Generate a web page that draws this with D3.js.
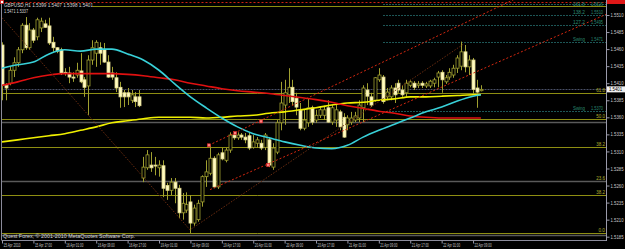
<!DOCTYPE html>
<html><head><meta charset="utf-8">
<script src="https://cdn.jsdelivr.net/npm/d3@7"></script>
<style>html,body{margin:0;padding:0;background:#000;overflow:hidden}text{font-family:"Liberation Sans",Arial,sans-serif}</style>
</head><body><svg id="c" width="625" height="249"></svg>
<script>
// ---- candle data (GBPUSD H1) ----
const opens  = [1.5466,1.5407,1.5410,1.5429,1.5440,1.5459,1.5495,1.5462,1.5488,1.5478,1.5491,1.5497,1.5494,1.5470,1.5462,1.5459,1.5426,1.5425,1.5419,1.5422,1.5428,1.5415,1.5406,1.5444,1.5454,1.5462,1.5459,1.5441,1.5425,1.5418,1.5404,1.5396,1.5396,1.5385,1.5390,1.5390,
 1.5271,1.5286,1.5290,1.5290,1.5286,1.5289,1.5260,1.5253,1.5265,1.5256,1.5220,1.5224,1.5236,1.5205,1.5210,1.5236,1.5273,1.5278,1.5300,1.5258,1.5308,1.5297,1.5312,1.5334,1.5330,1.5334,1.5331,1.5333,1.5316,1.5322,1.5322,1.5316,1.5327,1.5287,1.5309,1.5352,1.5378,1.5393,1.5404,1.5388,1.5371,1.5344,1.5352,1.5374,1.5356,1.5363,1.5363,1.5374,1.5353,1.5356,1.5368,1.5360,1.5349,1.5353,1.5356,1.5359,1.5374,1.5400,1.5390,1.5385,1.5415,1.5419,1.5390,1.5390,1.5403,1.5410,1.5400,1.5396,1.5407,1.5410,1.5407,1.5410,1.5406,1.5406,1.5410,1.5419,1.5426,1.5412,1.5419,1.5422,1.5432,1.5435,1.5456,1.5434,1.5444,1.5403,1.5399];
const highs  = [1.5470,1.5410,1.5434,1.5448,1.5463,1.5498,1.5507,1.5498,1.5491,1.5506,1.5506,1.5503,1.5506,1.5478,1.5463,1.5462,1.5432,1.5434,1.5426,1.5440,1.5454,1.5419,1.5451,1.5473,1.5473,1.5470,1.5469,1.5451,1.5434,1.5426,1.5412,1.5400,1.5403,1.5400,1.5397,1.5400,
 1.5302,1.5312,1.5309,1.5302,1.5297,1.5297,1.5264,1.5271,1.5271,1.5261,1.5249,1.5250,1.5246,1.5232,1.5239,1.5275,1.5297,1.5319,1.5303,1.5308,1.5315,1.5315,1.5338,1.5338,1.5338,1.5337,1.5337,1.5337,1.5334,1.5331,1.5327,1.5337,1.5331,1.5322,1.5356,1.5412,1.5415,1.5432,1.5415,1.5396,1.5381,1.5371,1.5388,1.5377,1.5371,1.5375,1.5377,1.5385,1.5378,1.5378,1.5371,1.5366,1.5363,1.5368,1.5368,1.5385,1.5407,1.5410,1.5396,1.5419,1.5432,1.5422,1.5403,1.5407,1.5410,1.5415,1.5407,1.5415,1.5415,1.5413,1.5413,1.5413,1.5412,1.5415,1.5418,1.5428,1.5429,1.5422,1.5432,1.5437,1.5451,1.5471,1.5466,1.5451,1.5447,1.5415,1.5407];
const lows   = [1.5385,1.5385,1.5407,1.5419,1.5434,1.5454,1.5459,1.5459,1.5469,1.5473,1.5485,1.5491,1.5466,1.5456,1.5454,1.5422,1.5421,1.5410,1.5412,1.5418,1.5410,1.5390,1.5363,1.5437,1.5434,1.5437,1.5440,1.5418,1.5415,1.5397,1.5374,1.5375,1.5378,1.5381,1.5375,1.5375,
 1.5265,1.5283,1.5280,1.5275,1.5273,1.5243,1.5239,1.5246,1.5234,1.5212,1.5210,1.5220,1.5190,1.5201,1.5207,1.5229,1.5258,1.5275,1.5256,1.5255,1.5297,1.5294,1.5308,1.5327,1.5327,1.5327,1.5322,1.5312,1.5314,1.5315,1.5312,1.5312,1.5287,1.5283,1.5306,1.5341,1.5349,1.5381,1.5378,1.5363,1.5341,1.5341,1.5346,1.5349,1.5352,1.5359,1.5356,1.5352,1.5349,1.5346,1.5341,1.5330,1.5341,1.5349,1.5353,1.5353,1.5353,1.5378,1.5375,1.5383,1.5412,1.5380,1.5385,1.5385,1.5381,1.5396,1.5390,1.5390,1.5404,1.5400,1.5403,1.5403,1.5403,1.5403,1.5404,1.5404,1.5396,1.5409,1.5415,1.5418,1.5425,1.5429,1.5426,1.5422,1.5393,1.5374,1.5398];
const closes = [1.5407,1.5403,1.5429,1.5440,1.5459,1.5495,1.5462,1.5488,1.5473,1.5503,1.5501,1.5492,1.5469,1.5462,1.5457,1.5425,1.5425,1.5419,1.5418,1.5429,1.5412,1.5404,1.5444,1.5462,1.5470,1.5454,1.5441,1.5419,1.5419,1.5403,1.5390,1.5390,1.5390,1.5393,1.5383,1.5377,
 1.5287,1.5305,1.5286,1.5289,1.5290,1.5256,1.5253,1.5265,1.5256,1.5220,1.5234,1.5232,1.5205,1.5227,1.5234,1.5273,1.5280,1.5300,1.5258,1.5305,1.5299,1.5312,1.5334,1.5330,1.5334,1.5331,1.5327,1.5315,1.5324,1.5327,1.5315,1.5334,1.5290,1.5315,1.5352,1.5381,1.5396,1.5404,1.5383,1.5375,1.5344,1.5356,1.5374,1.5353,1.5363,1.5371,1.5371,1.5353,1.5374,1.5371,1.5346,1.5331,1.5359,1.5359,1.5362,1.5378,1.5403,1.5391,1.5378,1.5418,1.5422,1.5383,1.5397,1.5403,1.5393,1.5400,1.5393,1.5410,1.5412,1.5404,1.5409,1.5407,1.5409,1.5413,1.5415,1.5425,1.5415,1.5418,1.5426,1.5432,1.5447,1.5456,1.5434,1.5444,1.5401,1.5397,1.5401];

// ---- moving averages, read at sample bars ----
const maBars   = [0,4,8,12,16,20,24,28,32,36,40,44,48,52,56,60,64,68,72,76,80,84,88,92,96,100,104,108,112,116,120,122];
const maCyan   = [1.5432,1.5437,1.5441,1.5453,1.5459,1.5457,1.5460,1.5460,1.5453,1.5444,1.5429,1.5409,1.5390,1.5374,1.5359,1.5346,1.5336,1.5330,1.5324,1.5319,1.5315,1.5314,1.5319,1.5331,1.5341,1.5350,1.5359,1.5368,1.5375,1.5384,1.5391,1.5393];
const maRed    = [1.5407,1.5412,1.5418,1.5422,1.5424,1.5424,1.5424,1.5424,1.5423,1.5421,1.5418,1.5415,1.5410,1.5406,1.5402,1.5399,1.5397,1.5395,1.5392,1.5389,1.5386,1.5382,1.5377,1.5373,1.5369,1.5366,1.5362,1.5360,1.5359,1.5359,1.5359,1.5359];
const maYellow = [1.5324,1.5327,1.5330,1.5333,1.5336,1.5341,1.5346,1.5352,1.5355,1.5358,1.5360,1.5360,1.5360,1.5359,1.5360,1.5362,1.5363,1.5366,1.5368,1.5371,1.5374,1.5378,1.5381,1.5382,1.5385,1.5387,1.5390,1.5390,1.5391,1.5392,1.5393,1.5393];

// ---- axes ----
const priceTicks = [1.5510,1.5485,1.5460,1.5435,1.5410,1.5385,1.5360,1.5335,1.5310,1.5285,1.5260,1.5235,1.5210,1.5185];
const timeBars   = [0,8,16,24,32,40,48,56,64,72,80,88,96,104,112,120];
const timeLabels = ["15 Apr 2010","15 Apr 17:00","16 Apr 01:00","16 Apr 09:00","16 Apr 17:00","19 Apr 01:00","19 Apr 09:00","19 Apr 17:00","20 Apr 01:00","20 Apr 09:00","20 Apr 17:00","21 Apr 01:00","21 Apr 09:00","21 Apr 17:00","22 Apr 01:00","22 Apr 09:00"];
const bidPrice = 1.5401;
const alertPrice = 1.5529;

// ---- fibonacci retracement (olive) ----
const fibLabels = ["0.0","38.2","38.2","50.0","61.8","100.0"];
const fibPrices = [1.5190,1.5246,1.5317,1.5357,1.5396,1.5523];
// second retracement (grey)
const fib2Labels = ["0.0","23.6","50.0"];
const fib2Prices = [1.5188,1.5267,1.5353];
// swing projection (teal)
const swingLabels = ["161.8","138.2","127.2","Swing","Swing"];
const swingPrices = [1.5526,1.5510,1.5495,1.5471,1.5370];

// ---- drawn trend objects: [bar, price] ----
const channelUpper = [[52.7,1.5319],[129.4,1.5530]];
const channelLower = [[53.0,1.5254],[153.9,1.5511]];
const channelMarks = [[52.7,1.5319],[59.4,1.5337],[66.0,1.5354],[67.8,1.5290]];
const zigzag = [[0,1.5506],[47.9,1.5195],[117.5,1.5467]];

const W=625,H=249;
const svg=d3.select("#c");
const x=d3.scaleLinear().domain([0,122]).range([2,480.9]);
const y=d3.scaleLinear().domain([1.5185,1.5510]).range([236.7,15]);
const left=1.5,right=606,bottom=240;

svg.append("rect").attr("width",W).attr("height",H).attr("fill","#000");
svg.append("defs").append("clipPath").attr("id","clip").append("rect")
  .attr("x",left).attr("y",0).attr("width",right-left).attr("height",bottom);
const plot=svg.append("g").attr("clip-path","url(#clip)");

function fitText(sel,w){sel.attr("textLength",w).attr("lengthAdjust","spacingAndGlyphs");}

// horizontal lines
function hline(p,color,dash,x0,wid){
  plot.append("line").attr("x1",x0==null?left:x0).attr("x2",right)
    .attr("y1",Math.round(y(p))+0.5).attr("y2",Math.round(y(p))+0.5)
    .attr("stroke",color).attr("stroke-width",wid||1).attr("stroke-dasharray",dash||null);
}
fib2Prices.forEach(p=>hline(p,"#5a5a5a",null,null,1.5));
fibPrices.forEach((p,i)=>hline(p,"#8e8e12",null,i===5?93:null));
swingPrices.forEach(p=>hline(p,"#1d5656","2,1",383));
hline(bidPrice,"#4a5068","2,1");
hline(alertPrice,"#d02010","2,2");

// candles
const bars=d3.range(opens.length).map(i=>({i,o:opens[i],h:highs[i],l:lows[i],c:closes[i]}));
const cg=plot.append("g");
cg.selectAll("line.w").data(bars).join("line")
  .attr("x1",d=>Math.round(x(d.i))+0.5).attr("x2",d=>Math.round(x(d.i))+0.5)
  .attr("y1",d=>y(d.h)).attr("y2",d=>y(d.l))
  .attr("stroke","#a0a030").attr("stroke-width",1);
cg.selectAll("rect.b").data(bars).join("rect")
  .attr("x",d=>Math.round(x(d.i))-1).attr("width",3)
  .attr("y",d=>y(Math.max(d.o,d.c))).attr("height",d=>Math.max(1,Math.abs(y(d.o)-y(d.c))))
  .attr("fill",d=>d.c>=d.o?"#000":"#fffbc0")
  .attr("stroke",d=>d.c>=d.o?"#a0a030":"#e0d890").attr("stroke-width",0.8);

// moving averages
function ma(vals,color){
  const pts=maBars.map((b,k)=>[x(b),y(vals[k])]);
  plot.append("path").attr("d",d3.line().curve(d3.curveMonotoneX)(pts))
    .attr("fill","none").attr("stroke",color).attr("stroke-width",1.6);
}
ma(maYellow,"#f0f000");
ma(maRed,"#e01010");
ma(maCyan,"#38d0d8");

// trend objects
function seg(pts,color,dash,extend){
  let p=pts.map(d=>[x(d[0]),y(d[1])]);
  if(extend){const dx=p[1][0]-p[0][0],dy=p[1][1]-p[0][1];p=[p[0],[p[0][0]+dx*3,p[0][1]+dy*3]];}
  plot.append("path").attr("d",d3.line()(p)).attr("fill","none")
    .attr("stroke",color).attr("stroke-width",1).attr("stroke-dasharray",dash);
}
seg(zigzag,"#6a2c10","1.5,1.5",false);
seg(channelUpper,"#d42810","2,2",true);
seg(channelLower,"#d42810","2,2",true);
plot.selectAll("rect.m").data(channelMarks).join("rect")
  .attr("x",d=>x(d[0])-1.5).attr("y",d=>y(d[1])-1.5).attr("width",3).attr("height",3)
  .attr("fill","#ff8080").attr("stroke","#e02020").attr("stroke-width",0.6);

// labels for fib lines
const fs=5;
fibLabels.forEach((t,i)=>{
  if(i===5) return;
  svg.append("text").attr("x",605).attr("y",y(fibPrices[i])-1).attr("text-anchor","end")
    .attr("font-size",fs).attr("fill","#b0b030").text(t).call(fitText,t.length*2.2);
});
fib2Labels.forEach((t,i)=>{
  if(i!==1) return;
  svg.append("text").attr("x",605).attr("y",y(fib2Prices[i])-1).attr("text-anchor","end")
    .attr("font-size",fs).attr("fill","#b0b030").text(t).call(fitText,8.8);
});
swingLabels.forEach((t,i)=>{
  const yy=Math.max(6,y(swingPrices[i])-1);
  svg.append("text").attr("x",573).attr("y",yy).attr("font-size",fs).attr("fill","#2a8a70").text(t).call(fitText,12);
  svg.append("text").attr("x",603).attr("y",yy).attr("text-anchor","end").attr("font-size",fs).attr("fill","#2a8a70")
    .text(d3.format(".4f")(swingPrices[i])).call(fitText,12);
});

// frame
svg.append("line").attr("x1",left).attr("x2",left).attr("y1",0).attr("y2",bottom).attr("stroke","#8a8a9a");
svg.append("line").attr("x1",left).attr("x2",right).attr("y1",bottom+0.5).attr("y2",bottom+0.5).attr("stroke","#8a8a9a");
svg.append("rect").attr("x",0.5).attr("y",0.5).attr("width",3).attr("height",3).attr("fill","#ffffff").attr("stroke","#e02020").attr("stroke-width",0.8);

// price axis
const ya=svg.append("g").attr("transform",`translate(${right+0.5},0)`)
  .call(d3.axisRight(y).tickValues(priceTicks).tickSize(3).tickSizeOuter(0).tickFormat(d3.format(".4f")));
ya.select(".domain").remove();
ya.selectAll("line").attr("stroke","#9a9aaa");
ya.selectAll("text").attr("font-size",fs).attr("fill","#c8c8c8").attr("x",4).call(fitText,13);
svg.append("line").attr("x1",right+0.5).attr("x2",right+0.5).attr("y1",0).attr("y2",bottom+1).attr("stroke","#9a9aaa");
svg.append("rect").attr("x",right+1).attr("y",y(bidPrice)-3).attr("width",18).attr("height",6).attr("fill","#f0f0f0");
svg.append("text").attr("x",right+3).attr("y",y(bidPrice)+2).attr("font-size",fs).attr("fill","#000").text(d3.format(".4f")(bidPrice)).call(fitText,13);
svg.append("rect").attr("x",right+1).attr("y",0).attr("width",18).attr("height",4).attr("fill","#e01818");

// time axis
const xa=svg.append("g").attr("transform",`translate(0,${bottom+0.5})`)
  .call(d3.axisBottom(x).tickValues(timeBars).tickSize(3).tickSizeOuter(0).tickFormat((d,k)=>timeLabels[k]));
xa.select(".domain").remove();
xa.selectAll("line").attr("stroke","#9a9aaa");
xa.selectAll("text").attr("font-size",fs).attr("fill","#c8c8c8").attr("text-anchor","start").attr("x",1).attr("y",2.5).attr("dy","0.71em").call(fitText,17);

// header + copyright
svg.append("text").attr("x",4).attr("y",7).attr("font-size",fs).attr("fill","#d8d8d8")
  .text("GBPUSD,H1  "+[opens[122],highs[122],lows[122],closes[122]].map(d3.format(".4f")).join(" ")).call(fitText,89);
svg.append("text").attr("x",4).attr("y",12.5).attr("font-size",fs).attr("fill","#d8d8d8").text("1.5471 1.5337").call(fitText,24);
svg.append("text").attr("x",3).attr("y",238).attr("font-size",fs).attr("fill","#d8d8d8")
  .text("Quest Forex, © 2001-2010 MetaQuotes Software Corp.").call(fitText,132);
</script></body></html>
